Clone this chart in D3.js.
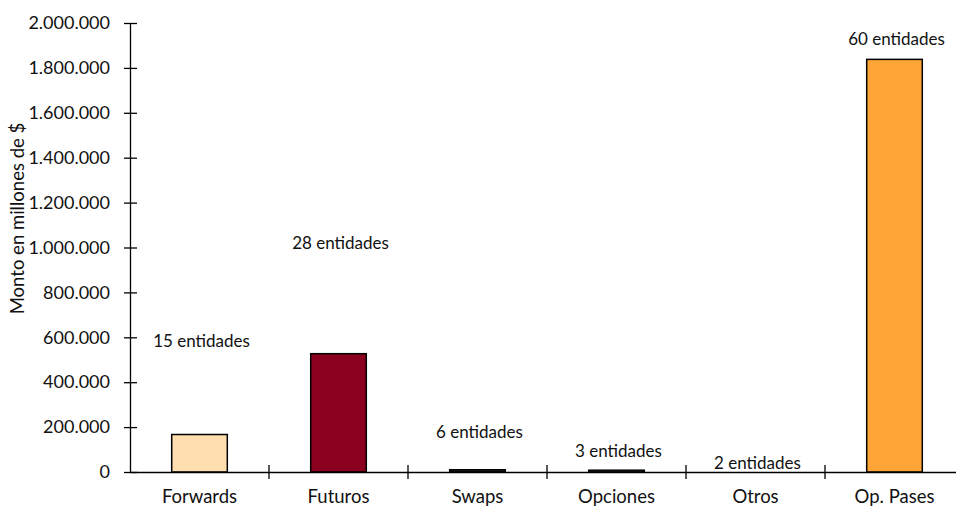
<!DOCTYPE html>
<html>
<head>
<meta charset="utf-8">
<script src="https://cdn.jsdelivr.net/npm/d3@7"></script>
<style>
  html, body { margin: 0; padding: 0; background: #fff; }
  svg { display: block; }
  text { font-family: Lato, "Open Sans", sans-serif; fill: #111; }
</style>
</head>
<body>
<svg id="chart" width="956" height="509"></svg>
<script>
// Monto operado por tipo de instrumento (millones de $)
const categories = ["Forwards", "Futuros", "Swaps", "Opciones", "Otros", "Op. Pases"];
const montos = [167000, 527000, 10000, 8000, 0, 1838000];
const entidades = ["15 entidades", "28 entidades", "6 entidades", "3 entidades", "2 entidades", "60 entidades"];
// height (in axis units) at which each "entidades" note is placed
const notaNivel = [585000, 1020000, 180000, 95000, 40000, 1930000];
const colores = ["#FFDFB0", "#8A001E", "#2a2a2a", "#2f4f2f", "#ffffff", "#FFA537"];
const yTicks = [0, 200000, 400000, 600000, 800000, 1000000, 1200000, 1400000, 1600000, 1800000, 2000000];

const svg = d3.select("#chart");
const x0 = 130, x1 = 964, yTop = 23, yBottom = 472;

const x = d3.scaleBand().domain(categories).range([x0, x1]).paddingInner(0).paddingOuter(0);
const y = d3.scaleLinear().domain([0, 2000000]).range([yBottom, yTop]);

const fmt = d => d3.format(",")(d).replace(/,/g, ".");

// Bars
const barW = x.bandwidth() * 0.4;
svg.append("g").selectAll("rect")
  .data(categories)
  .join("rect")
  .attr("x", (d) => x(d) + (x.bandwidth() - barW) / 2)
  .attr("width", barW)
  .attr("y", (d, i) => y(montos[i]))
  .attr("height", (d, i) => yBottom - y(montos[i]))
  .attr("fill", (d, i) => colores[i])
  .attr("stroke", "#000")
  .attr("stroke-width", 1.5);

// Y axis
const yAxis = d3.axisLeft(y).tickValues(yTicks).tickFormat(fmt).tickSizeInner(0).tickSizeOuter(0).tickPadding(20);
const gy = svg.append("g").attr("transform", `translate(${x0},0)`).call(yAxis);
gy.select(".domain").attr("stroke", "#000").attr("stroke-width", 1.3);
gy.selectAll(".tick line").attr("x1", -6).attr("x2", 7).attr("stroke", "#000").attr("stroke-width", 1.3);
gy.selectAll(".tick text").attr("font-size", 18).style("font-family", "Lato, sans-serif").attr("fill", "#111");

// X axis
const xAxis = d3.axisBottom(x).tickSize(0).tickPadding(18);
const gx = svg.append("g").attr("transform", `translate(0,${yBottom})`).call(xAxis);
gx.select(".domain").attr("stroke", "#000").attr("stroke-width", 1.3);
gx.selectAll(".tick text").attr("font-size", 18.5).attr("dy", "0.71em").style("font-family", "Lato, sans-serif").attr("fill", "#111");
// separators between categories
gx.append("g").selectAll("line")
  .data(categories.slice(1))
  .join("line")
  .attr("x1", d => x(d)).attr("x2", d => x(d))
  .attr("y1", -7).attr("y2", 7)
  .attr("stroke", "#000").attr("stroke-width", 1.3);

// Notes with number of entities
svg.append("g").selectAll("text")
  .data(categories)
  .join("text")
  .attr("x", d => x(d) + x.bandwidth() / 2 + 2)
  .attr("y", (d, i) => y(notaNivel[i]))
  .attr("dy", "0.35em")
  .attr("text-anchor", "middle")
  .attr("font-size", 17)
  .text((d, i) => entidades[i]);

// Y axis title
svg.append("text")
  .attr("transform", `translate(24,${(yTop + yBottom) / 2 - 29}) rotate(-90)`)
  .attr("text-anchor", "middle")
  .attr("font-size", 18.5)
  .text("Monto en millones de $");
</script>
</body>
</html>
